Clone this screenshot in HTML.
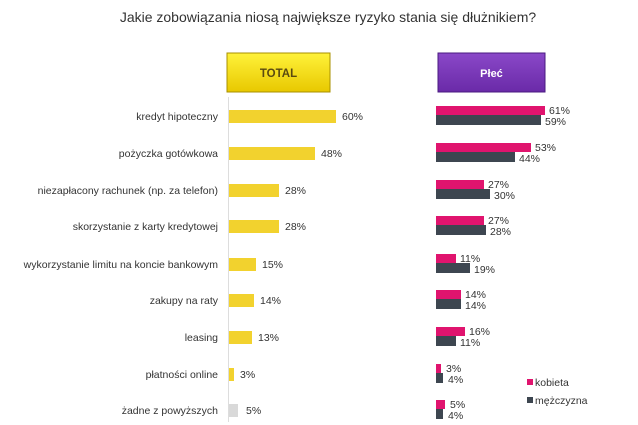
<!DOCTYPE html>
<html><head><meta charset="utf-8"><style>
body{margin:0;background:#fff;width:638px;height:425px;overflow:hidden}
svg{display:block;font-family:"Liberation Sans",sans-serif}
</style></head><body>
<svg width="638" height="425" xmlns="http://www.w3.org/2000/svg">
<defs>
<linearGradient id="gy" x1="0" y1="0" x2="0" y2="1"><stop offset="0" stop-color="#fff23a"/><stop offset="1" stop-color="#e8c800"/></linearGradient>
<linearGradient id="gp" x1="0" y1="0" x2="0" y2="1"><stop offset="0" stop-color="#8a48c8"/><stop offset="1" stop-color="#6a2aa8"/></linearGradient>
</defs>
<text x="328" y="22" font-size="14" fill="#333" text-anchor="middle">Jakie zobowiązania niosą największe ryzyko stania się dłużnikiem?</text>
<rect x="227" y="53" width="103" height="39" fill="url(#gy)" stroke="#a89000" stroke-width="1"/>
<text x="278.5" y="77" font-size="11.5" font-weight="bold" fill="#5a4a10" text-anchor="middle">TOTAL</text>
<rect x="438" y="53" width="107" height="39" fill="url(#gp)" stroke="#4a1a80" stroke-width="1"/>
<text x="491.5" y="77" font-size="11" font-weight="bold" fill="#fff" text-anchor="middle">Płeć</text>
<line x1="228.5" y1="97" x2="228.5" y2="422" stroke="#ddd"/>
<g font-size="10.5" fill="#333" text-anchor="end">
<text x="218" y="120">kredyt hipoteczny</text>
<text x="218" y="157">pożyczka gotówkowa</text>
<text x="218" y="194">niezapłacony rachunek (np. za telefon)</text>
<text x="218" y="230">skorzystanie z karty kredytowej</text>
<text x="218" y="268">wykorzystanie limitu na koncie bankowym</text>
<text x="218" y="304">zakupy na raty</text>
<text x="218" y="341">leasing</text>
<text x="218" y="378">płatności online</text>
<text x="218" y="414">żadne z powyższych</text>
</g>
<g fill="#f2d22e">
<rect x="229" y="110" width="107" height="13"/>
<rect x="229" y="147" width="86" height="13"/>
<rect x="229" y="184" width="50" height="13"/>
<rect x="229" y="220" width="50" height="13"/>
<rect x="229" y="258" width="27" height="13"/>
<rect x="229" y="294" width="25" height="13"/>
<rect x="229" y="331" width="23" height="13"/>
<rect x="229" y="368" width="5" height="13"/>
</g>
<rect x="229" y="404" width="9" height="13" fill="#d9d9d9"/>
<g font-size="10.5" fill="#333">
<text x="342" y="120">60%</text>
<text x="321" y="157">48%</text>
<text x="285" y="194">28%</text>
<text x="285" y="230">28%</text>
<text x="262" y="268">15%</text>
<text x="260" y="304">14%</text>
<text x="258" y="341">13%</text>
<text x="240" y="378">3%</text>
<text x="246" y="414">5%</text>
</g>
<g>
<rect x="436" y="106" width="109" height="9" fill="#e0146e"/><rect x="436" y="115" width="105" height="10" fill="#3d4650"/>
<rect x="436" y="143" width="95" height="9" fill="#e0146e"/><rect x="436" y="152" width="79" height="10" fill="#3d4650"/>
<rect x="436" y="180" width="48" height="9" fill="#e0146e"/><rect x="436" y="189" width="54" height="10" fill="#3d4650"/>
<rect x="436" y="216" width="48" height="9" fill="#e0146e"/><rect x="436" y="225" width="50" height="10" fill="#3d4650"/>
<rect x="436" y="254" width="20" height="9" fill="#e0146e"/><rect x="436" y="263" width="34" height="10" fill="#3d4650"/>
<rect x="436" y="290" width="25" height="9" fill="#e0146e"/><rect x="436" y="299" width="25" height="10" fill="#3d4650"/>
<rect x="436" y="327" width="29" height="9" fill="#e0146e"/><rect x="436" y="336" width="20" height="10" fill="#3d4650"/>
<rect x="436" y="364" width="5" height="9" fill="#e0146e"/><rect x="436" y="373" width="7" height="10" fill="#3d4650"/>
<rect x="436" y="400" width="9" height="9" fill="#e0146e"/><rect x="436" y="409" width="7" height="10" fill="#3d4650"/>
</g>
<g font-size="10.5" fill="#333">
<text x="549" y="114">61%</text><text x="545" y="125">59%</text>
<text x="535" y="151">53%</text><text x="519" y="162">44%</text>
<text x="488" y="188">27%</text><text x="494" y="199">30%</text>
<text x="488" y="224">27%</text><text x="490" y="235">28%</text>
<text x="460" y="262">11%</text><text x="474" y="273">19%</text>
<text x="465" y="298">14%</text><text x="465" y="309">14%</text>
<text x="469" y="335">16%</text><text x="460" y="346">11%</text>
<text x="446" y="372">3%</text><text x="448" y="383">4%</text>
<text x="450" y="408">5%</text><text x="448" y="419">4%</text>
</g>
<rect x="527" y="379" width="6" height="6" fill="#e0146e"/>
<text x="535" y="386" font-size="10.5" fill="#333">kobieta</text>
<rect x="527" y="397" width="6" height="6" fill="#3d4650"/>
<text x="535" y="404" font-size="10.5" fill="#333">mężczyzna</text>
</svg>
</body></html>
